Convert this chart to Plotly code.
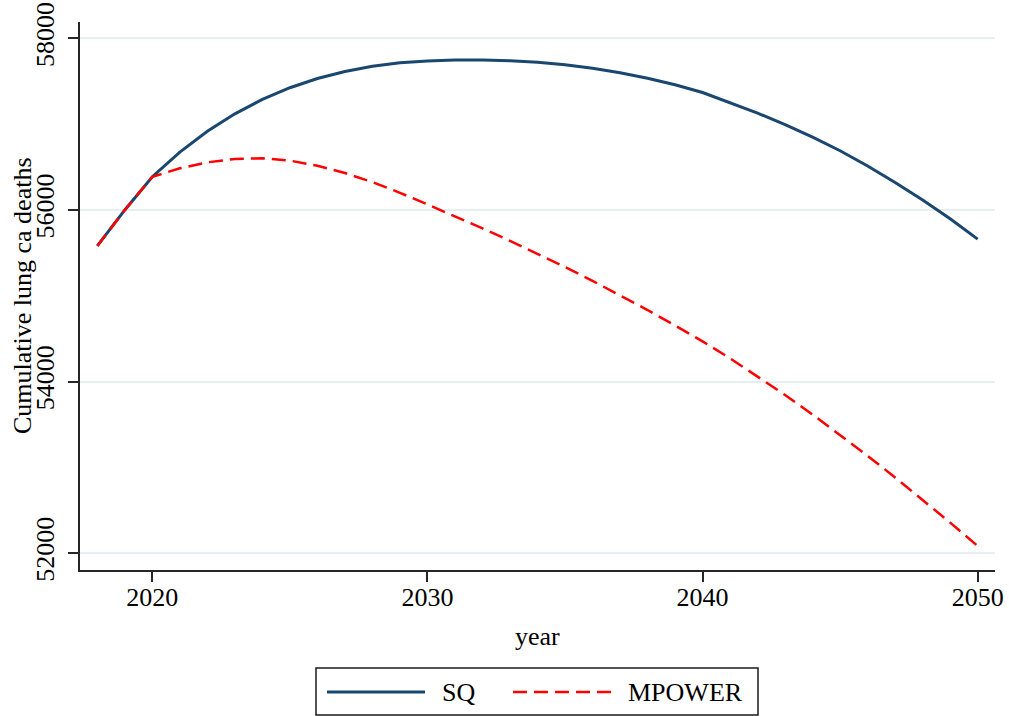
import plotly.graph_objects as go

years = list(range(2018, 2051))
sq = [55581, 56000, 56387, 56674, 56917, 57120, 57288, 57424, 57532, 57614,
      57674, 57714, 57736, 57746, 57746, 57738, 57720, 57691, 57651, 57599,
      57535, 57458, 57368, 57250, 57128, 56994, 56848, 56690, 56512, 56321,
      56117, 55898, 55660]
mpower = [55581, 56000, 56387, 56485, 56555, 56595, 56602, 56575, 56515, 56430,
          56325, 56200, 56064, 55926, 55785, 55640, 55490, 55335, 55174, 55007,
          54834, 54654, 54469, 54271, 54062, 53844, 53616, 53380, 53135, 52883,
          52623, 52357, 52085]
series_names = ["SQ", "MPOWER"]
x_ticks = [2020, 2030, 2040, 2050]
y_ticks = [52000, 54000, 56000, 58000]

W, H = 1009, 716
L, R, T, B = 80, 14, 22, 146
FONT = "Liberation Serif"
FS = 26
NAVY = "#1a476f"
RED = "#ff0000"
pw, ph = W - L - R, H - T - B


def px(x):
    return (x - L) / pw


def py(y):
    return (H - B - y) / ph


fig = go.Figure()
fig.add_trace(go.Scatter(x=years, y=sq, mode="lines", name=series_names[0],
                         line=dict(color=NAVY, width=3), showlegend=False))
fig.add_trace(go.Scatter(x=years, y=mpower, mode="lines", name=series_names[1],
                         line=dict(color=RED, width=2.5, dash="14px,7px"),
                         showlegend=False))

fig.update_layout(
    width=W, height=H, autosize=False,
    margin=dict(l=L, r=R, t=T, b=B),
    paper_bgcolor="white", plot_bgcolor="white",
    font=dict(family=FONT, size=FS, color="black"),
    showlegend=False,
)
fig.update_xaxes(
    range=[2017.37, 2050.63], tickvals=x_ticks, ticktext=[str(v) for v in x_ticks],
    showgrid=False, zeroline=False, automargin=False,
    showline=True, linecolor="#262626", linewidth=2,
    ticks="outside", ticklen=10, tickwidth=2, tickcolor="#262626",
    tickfont=dict(family=FONT, size=FS), ticklabelstandoff=-7,
)
fig.update_yaxes(
    range=[51805, 58190], tickvals=y_ticks, ticktext=[str(v) for v in y_ticks],
    showgrid=True, gridcolor="#e8eff2", gridwidth=2, zeroline=False, automargin=False,
    showline=True, linecolor="#262626", linewidth=2,
    ticks="outside", ticklen=10, tickwidth=2, tickcolor="#262626",
    tickangle=-90, tickfont=dict(family=FONT, size=FS), ticklabelstandoff=4,
)

# Legend drawn as a box below the plot
shapes = [
    dict(type="rect", xref="paper", yref="paper",
         x0=px(316), x1=px(758), y0=py(715), y1=py(668),
         line=dict(color="#1a1a1a", width=1.5), fillcolor="white", layer="above"),
    dict(type="line", xref="paper", yref="paper",
         x0=px(327), x1=px(425), y0=py(692), y1=py(692),
         line=dict(color=NAVY, width=3)),
    dict(type="line", xref="paper", yref="paper",
         x0=px(513), x1=px(612), y0=py(692), y1=py(692),
         line=dict(color=RED, width=2.5, dash="14px,7px")),
]
annotations = [
    dict(text="year", xref="paper", yref="paper", x=px(537), y=py(636),
         xanchor="center", yanchor="middle", showarrow=False,
         font=dict(family=FONT, size=FS, color="black")),
    dict(text="Cumulative lung ca deaths", xref="paper", yref="paper",
         x=px(22), y=0.5, textangle=-90,
         xanchor="center", yanchor="middle", showarrow=False,
         font=dict(family=FONT, size=FS, color="black")),
    dict(text=series_names[0], xref="paper", yref="paper", x=px(440), y=py(692),
         xanchor="left", yanchor="middle", showarrow=False,
         font=dict(family=FONT, size=FS, color="black")),
    dict(text=series_names[1], xref="paper", yref="paper", x=px(626), y=py(692),
         xanchor="left", yanchor="middle", showarrow=False,
         font=dict(family=FONT, size=FS, color="black")),
]
fig.update_layout(shapes=shapes, annotations=annotations)

fig.write_html("out.html", config={"displayModeBar": False},
               post_script="document.body.style.margin='0';document.body.style.overflow='hidden';")
